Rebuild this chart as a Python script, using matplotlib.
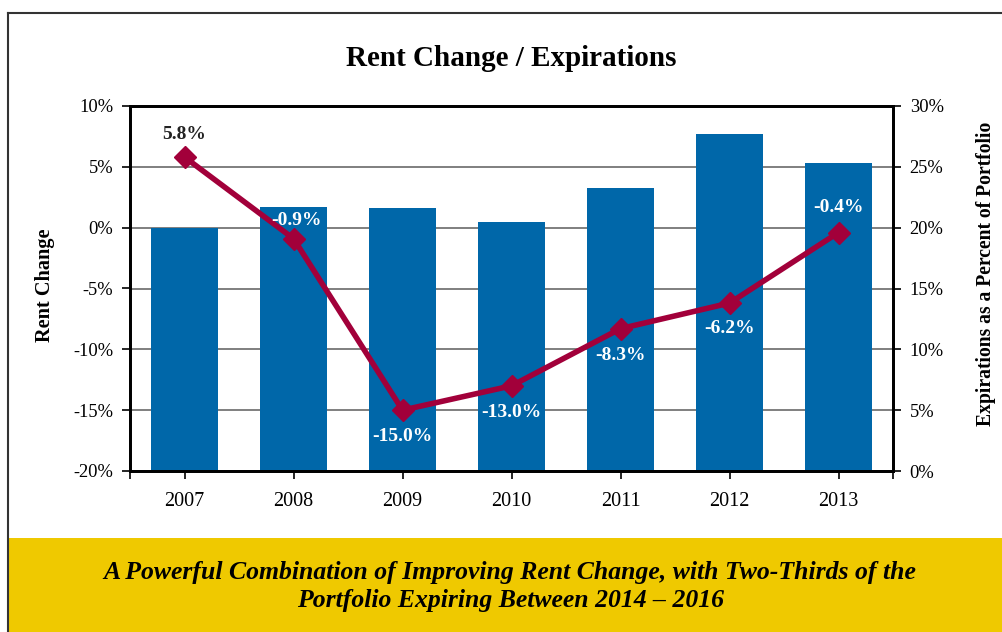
import matplotlib
matplotlib.use("Agg")
import matplotlib.pyplot as plt
from matplotlib.lines import Line2D
from matplotlib.patches import Rectangle
from matplotlib.ticker import FuncFormatter

years = ["2007", "2008", "2009", "2010", "2011", "2012", "2013"]
expirations = [20.0, 21.7, 21.6, 20.5, 23.3, 27.7, 25.3]      # right axis, bars
rent_change = [5.8, -0.9, -15.0, -13.0, -8.3, -6.2, -0.4]       # left axis, line
rent_labels = ["5.8%", "-0.9%", "-15.0%", "-13.0%", "-8.3%", "-6.2%", "-0.4%"]

BLUE = "#0067a9"
RED = "#a2003a"
YELLOW = "#efc900"

plt.rcParams["font.family"] = ["Liberation Serif", "DejaVu Serif"]

fig = plt.figure(figsize=(10.02, 6.32), dpi=100)

# outer frame + yellow banner
fig.add_artist(Line2D([8 / 1002, 1], [1 - 13 / 632] * 2, color="#333333", lw=1.5,
                      transform=fig.transFigure))
fig.add_artist(Line2D([8 / 1002] * 2, [0, 1 - 13 / 632], color="#333333", lw=1.5,
                      transform=fig.transFigure))
fig.add_artist(Rectangle((8.5 / 1002, 0), 1, 94 / 632, color=YELLOW, lw=0,
                         transform=fig.transFigure))
fig.text(0.509, 1 - 572 / 632, "A Powerful Combination of Improving Rent Change, with Two-Thirds of the",
         ha="center", va="center", fontsize=18.5, fontweight="bold", style="italic")
fig.text(0.509, 1 - 601 / 632, "Portfolio Expiring Between 2014 \u2013 2016",
         ha="center", va="center", fontsize=18.5, fontweight="bold", style="italic")

fig.text(0.510, 1 - 58 / 632, "Rent Change / Expirations", ha="center", va="center",
         fontsize=21, fontweight="bold")

ax = fig.add_axes([130 / 1002, 1 - 471 / 632, 763 / 1002, 365 / 632])
ax2 = ax.twinx()

x = list(range(len(years)))

# bars on the right-hand axis, gridlines behind them
ax2.bar(x, expirations, width=0.62, color=BLUE, zorder=2)
ax2.set_ylim(0, 30)
ax2.set_yticks(range(0, 31, 5))
ax2.yaxis.set_major_formatter(FuncFormatter(lambda v, p: f"{v:.0f}%"))
ax2.grid(axis="y", color="#7f7f7f", lw=1.4)
ax2.set_axisbelow(True)
ax2.set_ylabel("Expirations as a Percent of Portfolio", fontsize=14.1, fontweight="bold",
               labelpad=23)
ax2.yaxis.label.set_y(0.54)

# line on the left-hand axis, drawn above bars
ax.set_zorder(ax2.get_zorder() + 1)
ax.patch.set_visible(False)
ax.plot(x, rent_change, color=RED, lw=4, marker="D", markersize=11, zorder=3)
ax.set_ylim(-20, 10)
ax.set_yticks(range(-20, 11, 5))
ax.yaxis.set_major_formatter(FuncFormatter(lambda v, p: f"{v:.0f}%"))
ax.set_ylabel("Rent Change", fontsize=14.6, fontweight="bold", labelpad=13)
ax.yaxis.label.set_y(0.51)
ax.set_xlim(-0.5, len(years) - 0.5)
ax.set_xticks(x)
ax.set_xticklabels(years)
ax.set_xticks([-0.5, len(years) - 0.5], minor=True)

offsets = [(0, 16), (2, 13), (0, -19), (0, -19), (0, -19), (0, -18), (0, 18)]
for i, (v, lab, off) in enumerate(zip(rent_change, rent_labels, offsets)):
    col = "#222222" if i == 0 else "white"
    ax.annotate(lab, (i, v), xytext=off, textcoords="offset points", ha="center",
                va="center", fontsize=14, fontweight="bold", color=col, zorder=4)

for a in (ax, ax2):
    for s in a.spines.values():
        s.set_linewidth(2)
        s.set_color("black")
    a.tick_params(labelsize=13.3, width=1.2, length=6, colors="black")
ax.tick_params(axis="x", which="both", length=6, width=1.2, pad=9, labelsize=14.5)
ax2.tick_params(axis="y", pad=6)
ax.tick_params(axis="y", pad=6)

fig.savefig("out.png", dpi=100)
